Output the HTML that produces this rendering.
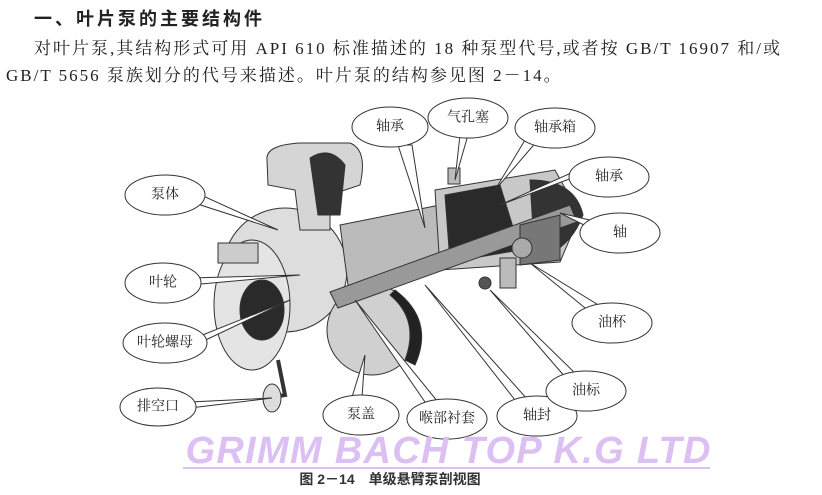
<!DOCTYPE html>
<html><head><meta charset="utf-8"><style>
body{margin:0;width:822px;height:495px;background:#fff;overflow:hidden;position:relative;font-family:"Liberation Serif","Noto Serif CJK SC",serif;color:#222}
.t{position:absolute;white-space:nowrap}
</style></head><body>
<div class="t" style="left:34px;top:5px;font-size:18px;letter-spacing:3px;font-weight:bold;font-family:'Liberation Sans','Noto Sans CJK SC',sans-serif">一、叶片泵的主要结构件</div>
<div class="t" style="left:34px;top:34px;font-size:17px;letter-spacing:2px">对叶片泵,其结构形式可用 API 610 标准描述的 18 种泵型代号,或者按 GB/T 16907 和/或</div>
<div class="t" style="left:6px;top:61px;font-size:17px;letter-spacing:2px">GB/T 5656 泵族划分的代号来描述。叶片泵的结构参见图 2－14。</div>
<svg width="822" height="495" style="position:absolute;left:0;top:0" font-family="Liberation Serif,Noto Serif CJK SC,serif">
<g stroke="#333" stroke-width="1">
<circle cx="285" cy="270" r="62" fill="#ddd"/>
<path d="M267 160 Q265 145 300 143 L350 143 Q368 150 360 185 L330 195 L330 230 L300 230 L295 190 L268 185Z" fill="#d5d5d5"/>
<path d="M310 158 Q330 145 345 165 L340 215 L318 215Z" fill="#333"/>
<ellipse cx="252" cy="305" rx="38" ry="65" fill="#e4e4e4"/>
<ellipse cx="262" cy="310" rx="22" ry="30" fill="#2a2a2a"/>
<rect x="218" y="243" width="40" height="20" fill="#ccc"/>
<circle cx="372" cy="330" r="45" fill="#d0d0d0"/>
<path d="M395 290 Q435 320 415 365 L405 360 Q420 320 390 295Z" fill="#222"/>
<path d="M340 225 L440 205 L440 270 L350 300Z" fill="#bbb"/>
<path d="M435 190 L555 170 L580 215 L560 262 L440 270Z" fill="#c8c8c8"/>
<path d="M445 195 L500 185 L520 250 L450 262Z" fill="#2a2a2a"/>
<path d="M530 180 Q575 180 583 215 Q570 250 535 260Z" fill="#333"/>
<path d="M330 292 L570 205 L577 222 L338 308Z" fill="#999"/>
<path d="M520 225 L560 215 L560 260 L520 265Z" fill="#777"/>
<circle cx="522" cy="248" r="10" fill="#aaa"/>
<rect x="500" y="258" width="16" height="30" fill="#bbb"/>
<circle cx="485" cy="283" r="6" fill="#555"/>
<path d="M278 360 L285 395 L268 398" fill="none" stroke-width="4"/>
<ellipse cx="272" cy="398" rx="9" ry="14" fill="#ddd"/>
<rect x="448" y="168" width="12" height="16" fill="#bbb"/>
</g>
<g fill="#fff" stroke="#333" stroke-width="1">
<polygon points="185,200 278,230 190,190"/>
<polygon points="190,285 300,275 190,278"/>
<polygon points="195,345 290,300 195,338"/>
<polygon points="190,408 272,398 190,402"/>
<polygon points="352,397 365,355 362,397"/>
<polygon points="425,402 355,300 438,402"/>
<polygon points="515,400 425,285 528,400"/>
<polygon points="566,378 490,290 578,376"/>
<polygon points="590,312 530,263 600,306"/>
<polygon points="594,230 560,213 598,222"/>
<polygon points="580,175 500,205 582,168"/>
<polygon points="528,135 495,190 538,140"/>
<polygon points="460,135 455,180 468,135"/>
<polygon points="398,145 425,228 412,145"/>
<ellipse cx="165" cy="195" rx="40" ry="20"/>
<ellipse cx="163" cy="283" rx="38" ry="20"/>
<ellipse cx="165" cy="343" rx="42" ry="20"/>
<ellipse cx="158" cy="407" rx="38" ry="19"/>
<ellipse cx="361" cy="415" rx="38" ry="20"/>
<ellipse cx="447" cy="419" rx="40" ry="20"/>
<ellipse cx="537" cy="416" rx="40" ry="20"/>
<ellipse cx="586" cy="391" rx="40" ry="20"/>
<ellipse cx="612" cy="323" rx="40" ry="20"/>
<ellipse cx="620" cy="233" rx="40" ry="20"/>
<ellipse cx="609" cy="177" rx="40" ry="20"/>
<ellipse cx="555" cy="128" rx="40" ry="20"/>
<ellipse cx="468" cy="118" rx="40" ry="20"/>
<ellipse cx="390" cy="127" rx="38" ry="20"/>
</g>
<g font-size="14" fill="#222" text-anchor="middle" dominant-baseline="central">
<text x="165" y="195">泵体</text><text x="163" y="283">叶轮</text><text x="165" y="343">叶轮螺母</text>
<text x="158" y="407">排空口</text><text x="361" y="415">泵盖</text><text x="447" y="419">喉部衬套</text>
<text x="537" y="416">轴封</text><text x="586" y="391">油标</text><text x="612" y="323">油杯</text>
<text x="620" y="233">轴</text><text x="609" y="177">轴承</text><text x="555" y="128">轴承箱</text>
<text x="468" y="118">气孔塞</text><text x="390" y="127">轴承</text>
</g>
<text x="448" y="463" text-anchor="middle" font-family="Liberation Sans,sans-serif" font-weight="bold" font-style="italic" font-size="38" textLength="525" fill="#dcc0f4">GRIMM BACH TOP K.G LTD</text>
<line x1="183" y1="468" x2="710" y2="468" stroke="#dcc0f4" stroke-width="2"/>
<text x="390" y="484" text-anchor="middle" font-size="14" font-weight="bold" fill="#333" font-family="Liberation Sans,Noto Sans CJK SC,sans-serif">图 2－14　单级悬臂泵剖视图</text>
</svg>
</body></html>
